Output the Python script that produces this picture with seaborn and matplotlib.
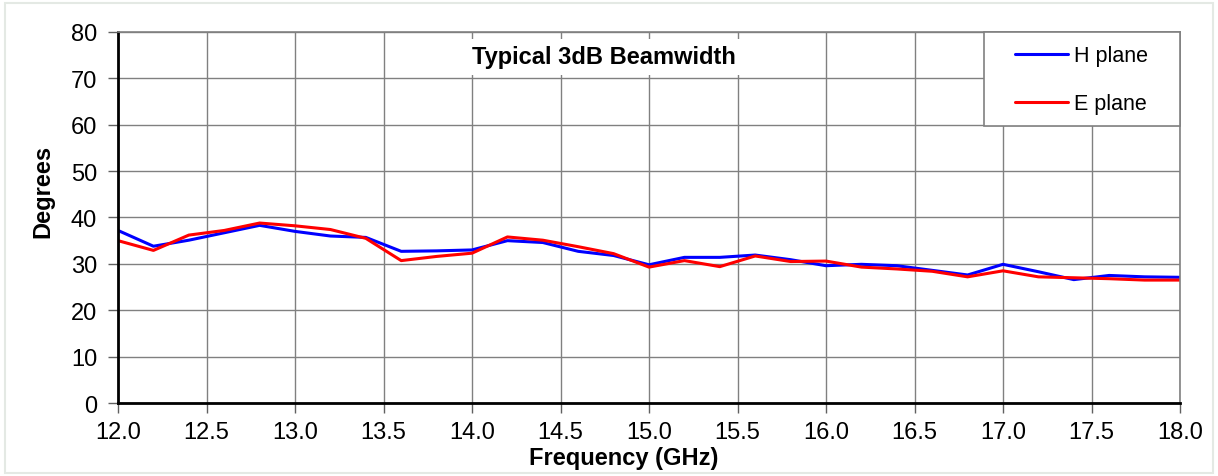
import numpy as np
import pandas as pd
import seaborn as sns
import matplotlib.pyplot as plt
from matplotlib.patches import Rectangle

FREQ_GHZ = [12.0, 12.2, 12.4, 12.6, 12.8, 13.0, 13.2, 13.4, 13.6, 13.8,
            14.0, 14.2, 14.4, 14.6, 14.8, 15.0, 15.2, 15.4, 15.6, 15.8,
            16.0, 16.2, 16.4, 16.6, 16.8, 17.0, 17.2, 17.4, 17.6, 17.8, 18.0]
H_PLANE = [37.2, 33.8, 35.1, 36.7, 38.3, 37.0, 36.0, 35.7, 32.7, 32.8,
           33.0, 35.0, 34.6, 32.7, 31.8, 29.8, 31.4, 31.4, 31.9, 30.9,
           29.6, 29.9, 29.6, 28.6, 27.6, 29.9, 28.3, 26.6, 27.5, 27.2, 27.1]
E_PLANE = [35.0, 32.9, 36.2, 37.2, 38.8, 38.2, 37.4, 35.5, 30.7, 31.6,
           32.3, 35.8, 35.1, 33.7, 32.2, 29.3, 30.7, 29.4, 31.7, 30.5,
           30.6, 29.3, 28.9, 28.4, 27.2, 28.5, 27.2, 27.0, 26.8, 26.5, 26.5]
SERIES = ["H plane", "E plane"]
COLORS = {"H plane": "#0000ff", "E plane": "#ff0000"}

df = pd.DataFrame({
    "Frequency": FREQ_GHZ * 2,
    "Degrees": H_PLANE + E_PLANE,
    "Series": ["H plane"] * len(FREQ_GHZ) + ["E plane"] * len(FREQ_GHZ),
})

sns.set_style("white")
plt.rcParams["font.family"] = ["Liberation Sans", "DejaVu Sans"]
plt.rcParams["text.color"] = "black"
plt.rcParams["xtick.color"] = "black"
plt.rcParams["ytick.color"] = "black"
plt.rcParams["axes.labelcolor"] = "black"

fig = plt.figure(figsize=(12.18, 4.77), dpi=100)
ax = fig.add_axes([0.0969, 0.153, 0.8719, 0.778])

# light outer frame around the whole chart
fig.patches.append(Rectangle((0.004, 0.006), 0.992, 0.986, transform=fig.transFigure,
                             fill=False, edgecolor="#e4e9e4", linewidth=1.5))

sns.lineplot(data=df, x="Frequency", y="Degrees", hue="Series", hue_order=SERIES,
             palette=COLORS, linewidth=2.2, ax=ax, legend=True)

ax.set_xlim(12.0, 18.0)
ax.set_ylim(0, 80)
ax.set_xticks(np.arange(12.0, 18.01, 0.5))
ax.set_xticklabels([f"{v:.1f}" for v in np.arange(12.0, 18.01, 0.5)])
ax.set_yticks(range(0, 81, 10))
ax.grid(True, color="#808080", linewidth=1.0)
ax.set_axisbelow(True)
ax.tick_params(axis="both", direction="out", length=7, width=1, color="#606060",
               labelsize=17, left=True, bottom=True)
ax.tick_params(axis="x", pad=6)
ax.tick_params(axis="y", pad=8)

for side in ["top", "right"]:
    ax.spines[side].set_color("#808080")
    ax.spines[side].set_linewidth(1.2)
for side in ["left", "bottom"]:
    ax.spines[side].set_color("black")
    ax.spines[side].set_linewidth(2)

ax.set_xlabel("Frequency (GHz)", fontsize=17, fontweight="bold", labelpad=2)
ax.set_ylabel("Degrees", fontsize=17, fontweight="bold", labelpad=12)
ax.xaxis.label.set_x(0.4765)
ax.yaxis.label.set_y(0.573)

ax.text(0.4576, 0.9326, "Typical 3dB Beamwidth", transform=ax.transAxes,
        ha="center", va="center", fontsize=17, fontweight="bold",
        bbox=dict(facecolor="white", edgecolor="none", pad=5))

# legend box with the wide side margins of the original
ax.add_patch(Rectangle((0.8154, 0.7466), 0.1846, 0.2534, transform=ax.transAxes,
                       facecolor="white", edgecolor="#808080", linewidth=1.2,
                       zorder=4, clip_on=False))
leg = ax.legend(loc="center", bbox_to_anchor=(0.907, 0.871), frameon=False,
                fontsize=15.5, handlelength=2.5, handletextpad=0.25,
                labelspacing=1.25, borderpad=0)
leg.set_zorder(5)

plt.savefig("out.png", dpi=100)
